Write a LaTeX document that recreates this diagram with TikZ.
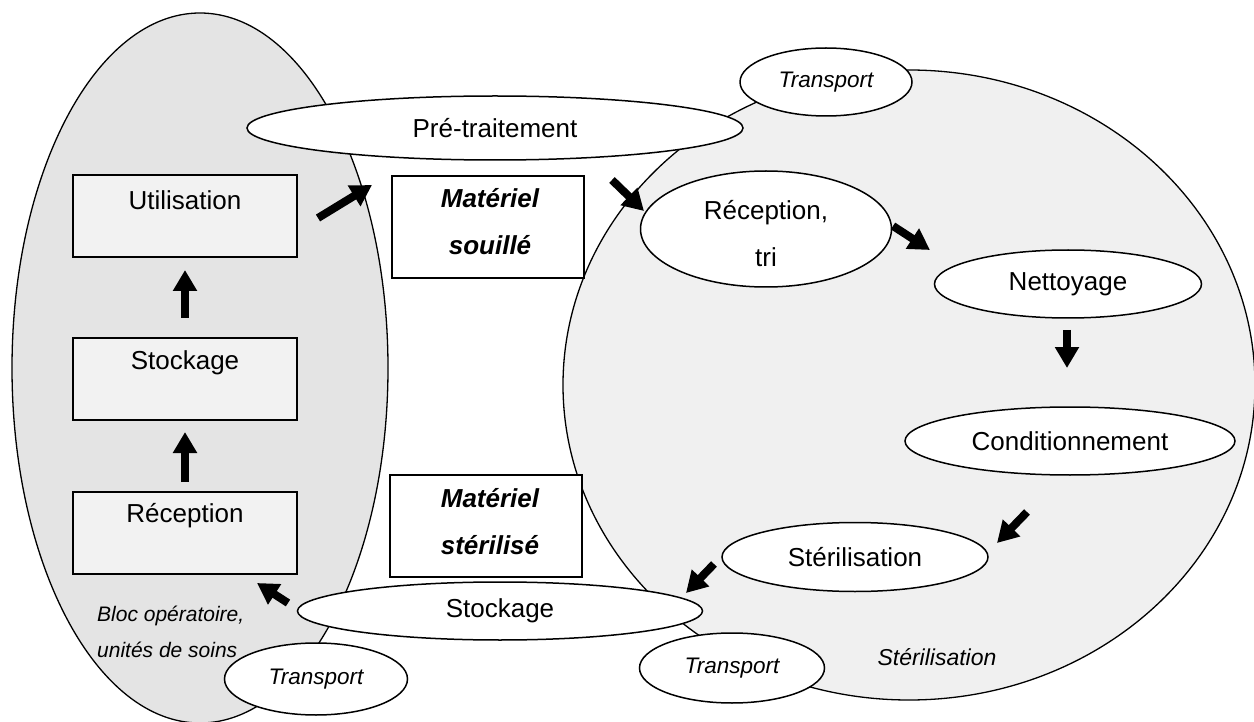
\documentclass[tikz,border=0pt]{standalone}
\usepackage{fontspec}
\setmainfont{Liberation Sans}
\usetikzlibrary{arrows.meta,shapes.geometric}
\definecolor{leftfill}{HTML}{E4E4E4}
\definecolor{rightfill}{HTML}{F0F0F0}
\definecolor{boxfill}{HTML}{F2F2F2}
\begin{document}
\begin{tikzpicture}[x=1pt,y=-1pt,
  zone/.style={ellipse, draw=black, line width=1.3pt, inner sep=0pt},
  oval/.style={ellipse, draw=black, fill=white, line width=1.5pt, inner sep=0pt,
    font=\fontsize{26}{30}\selectfont},
  toval/.style={ellipse, draw=black, fill=white, line width=1.5pt, inner sep=0pt,
    font=\fontsize{22.5}{26}\selectfont\itshape},
  gbox/.style={rectangle, draw=black, fill=boxfill, line width=1.5pt, inner sep=0pt,
    minimum width=224pt, minimum height=82pt},
  wbox/.style={rectangle, draw=black, fill=white, line width=1.5pt, inner sep=0pt,
    minimum width=192pt, minimum height=102pt},
  lbl/.style={inner sep=0pt, font=\fontsize{26}{30}\selectfont},
  bilbl/.style={inner sep=0pt, align=center, font=\fontsize{26}{47}\selectfont\bfseries\itshape},
  blk/.style={line width=8pt, -{Triangle[width=23pt,length=21pt]}},
]
\useasboundingbox (0,0) rectangle (1254,722);

% zones
\node[zone, fill=leftfill, minimum width=376pt, minimum height=710pt] (bloc) at (200,368) {};
\node[zone, fill=rightfill, minimum width=692pt, minimum height=630pt] (steri) at (909,385) {};

% boxes
\node[gbox] (util) at (185,216) {};
\node[lbl] (utilt) at (185,200) {Utilisation};
\node[gbox] (stock) at (185,379) {};
\node[lbl] (stockt) at (185,363) {Stockage};
\node[gbox] (recep) at (185,533) {};
\node[lbl] (recept) at (185,516) {Réception};

\node[wbox] (souil) at (488,227) {};
\node[bilbl] (souilt) at (490,222) {Matériel\\souillé};
\node[wbox] (steril) at (486,526) {};
\node[bilbl] (sterilt) at (490,522) {Matériel\\stérilisé};

% ellipses
\node[oval, minimum width=496pt, minimum height=64pt] (pre) at (495,128) {Pré-traitement};
\node[toval, minimum width=172pt, minimum height=68pt] (trtop) at (826,82) {Transport};
\node[oval, minimum width=251pt, minimum height=116pt] (rtri) at (766,229) {};
\node[lbl, align=center, font=\fontsize{26}{47}\selectfont] (rtrit) at (766,234) {Réception,\\tri};
\node[oval, minimum width=267pt, minimum height=68pt] (nett) at (1068,284) {Nettoyage};
\node[oval, minimum width=330pt, minimum height=68pt] (cond) at (1070,441) {Conditionnement};
\node[oval, minimum width=266pt, minimum height=69pt] (steo) at (855,557) {Stérilisation};
\node[oval, minimum width=405pt, minimum height=58pt] (stko) at (500,611) {Stockage};
\node[toval, minimum width=183pt, minimum height=72pt] (trbl) at (316,679) {Transport};
\node[toval, minimum width=185pt, minimum height=70pt] (trbr) at (732,668) {Transport};

% labels
\node[inner sep=0pt, align=left, anchor=west, font=\fontsize{21}{36}\selectfont\itshape]
  (blocl) at (97,632) {Bloc opératoire,\\unités de soins};
\node[inner sep=0pt, font=\fontsize{23}{26}\selectfont\itshape] (sterl) at (937,657) {Stérilisation};

% arrows
\coordinate (a1s) at (318,218); \coordinate (a1e) at (372,185);
\coordinate (a2s) at (185,318); \coordinate (a2e) at (185,270);
\coordinate (a3s) at (185,482); \coordinate (a3e) at (185,432);
\coordinate (a4s) at (612,180); \coordinate (a4e) at (644,211);
\coordinate (a5s) at (893,226); \coordinate (a5e) at (930,250);
\coordinate (a6s) at (1067,330); \coordinate (a6e) at (1067,368);
\coordinate (a7s) at (1027,512); \coordinate (a7e) at (997,543);
\coordinate (a8s) at (714,564); \coordinate (a8e) at (686,593);
\coordinate (a9s) at (288,603); \coordinate (a9e) at (257,583);
\foreach \i in {1,...,9} { \draw[blk] (a\i s) -- (a\i e); }
\end{tikzpicture}
\end{document}
